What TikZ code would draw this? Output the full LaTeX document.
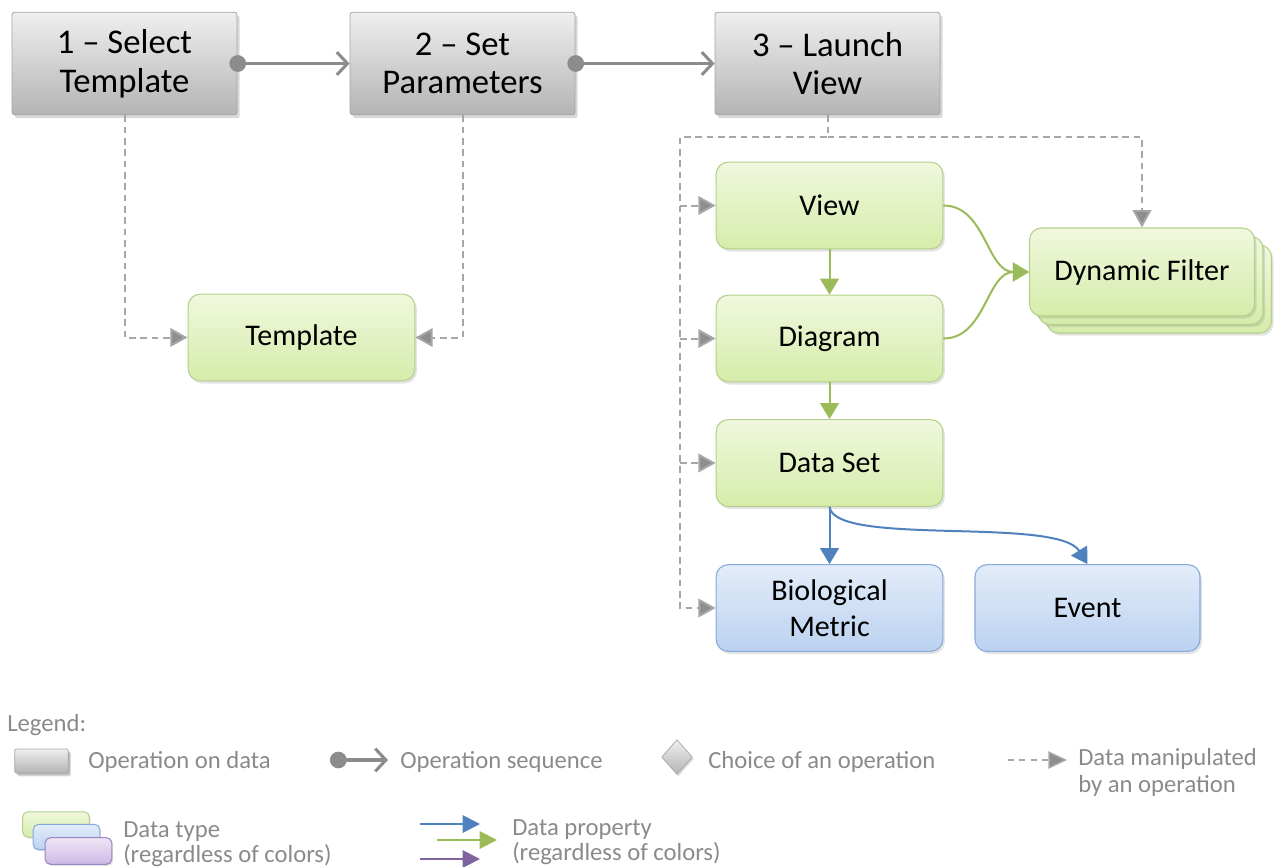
\documentclass[tikz,border=0pt]{standalone}
\usepackage{fontspec}
\setmainfont{Carlito}
\usetikzlibrary{arrows.meta,shapes.geometric,shadows}

% palette
\definecolor{opTop}{HTML}{EFEFEF}
\definecolor{opBot}{HTML}{B4B4B4}
\definecolor{opEdge}{HTML}{A4A4A4}
\definecolor{gTop}{HTML}{F0F8DE}
\definecolor{gBot}{HTML}{D6ECAA}
\definecolor{gEdge}{HTML}{B3D18A}
\definecolor{gLine}{HTML}{9BBB59}
\definecolor{bTop}{HTML}{E3ECF9}
\definecolor{bBot}{HTML}{BBD2F0}
\definecolor{bEdge}{HTML}{86AADA}
\definecolor{bLine}{HTML}{4F81BD}
\definecolor{pTop}{HTML}{EEE6F6}
\definecolor{pBot}{HTML}{CDB9E4}
\definecolor{pEdge}{HTML}{9A86C0}
\definecolor{pLine}{HTML}{8064A2}
\definecolor{seqGray}{HTML}{8C8C8C}
\definecolor{dashGray}{HTML}{A6A6A6}
\definecolor{tipGray}{HTML}{8E8E8E}
\definecolor{legGray}{HTML}{8A8A8A}

\tikzset{
  opbox/.style={draw=opEdge, line width=0.6pt, top color=opTop, bottom color=opBot,
    rounded corners=2pt, minimum width=168.75pt, minimum height=77pt, inner sep=0pt,
    align=center, font=\fontsize{26}{29}\selectfont,
    drop shadow={shadow xshift=2pt, shadow yshift=-2.5pt, opacity=0.3}},
  dtbox/.style={line width=0.8pt, rounded corners=9pt, minimum width=170pt,
    minimum height=65pt, inner sep=0pt, align=center,
    font=\fontsize{22.5}{27}\selectfont,
    drop shadow={shadow xshift=1.5pt, shadow yshift=-2pt, opacity=0.22}},
  greenbox/.style={dtbox, draw=gEdge, top color=gTop, bottom color=gBot},
  bluebox/.style={dtbox, draw=bEdge, top color=bTop, bottom color=bBot},
  seqarrow/.style={draw=seqGray, line width=2.3pt,
    arrows={Circle[length=12.5pt,fill=seqGray]-Straight Barb[length=8pt,width=17pt]}},
  datalink/.style={draw=dashGray, line width=1.5pt, dash pattern=on 5pt off 3.5pt,
    -{Triangle[length=13pt,width=14pt,fill=tipGray]}},
  gprop/.style={draw=gLine, line width=1.5pt, -{Triangle[length=12pt,width=14pt]}},
  bprop/.style={draw=bLine, line width=1.5pt, -{Triangle[length=12pt,width=14pt]}},
  legendtext/.style={text=legGray, font=\fontsize{18.5}{20}\selectfont,
    anchor=base west, inner sep=0pt},
  legendbox/.style={minimum width=50pt, minimum height=19pt, rounded corners=4pt,
    line width=0.8pt, drop shadow={shadow xshift=1pt, shadow yshift=-1.2pt, opacity=0.22}},
}

\begin{document}
\begin{tikzpicture}[x=0.75pt, y=0.75pt]
\useasboundingbox (0,0) rectangle (1281,-867);

% operations
\node[opbox] (b1) at (124.5,-63.5) {1 -- Select\\Template};
\node[opbox] (b2) at (462.5,-63.5) {2 -- Set\\Parameters};
\node[opbox] (b3) at (827.5,-63.5) {3 -- Launch\\View};

% data types
\node[greenbox] (tmpl) at (301.5,-337.5) {Template};
\node[greenbox] (view) at (829.5,-205.5) {View};
\node[greenbox] (diag) at (829.5,-338.5) {Diagram};
\node[greenbox] (dset) at (829.5,-463) {Data Set};
\node[bluebox] (bio) at (829.5,-608) {Biological\\Metric};
\node[bluebox, minimum width=168.75pt] (event) at (1087.5,-608) {Event};

% stacked dynamic filter
\node[greenbox, minimum width=168.75pt, minimum height=66pt] (dfb2) at (1159,-289) {};
\node[greenbox, minimum width=168.75pt, minimum height=66pt] (dfb1) at (1150.5,-280.5) {};
\node[greenbox, minimum width=168.75pt, minimum height=66pt] (dflt) at (1142,-272) {Dynamic Filter};

% operation sequence
\draw[seqarrow] ([xshift=-6pt]b1.east) -- (b2.west);
\draw[seqarrow] ([xshift=-6pt]b2.east) -- (b3.west);

% data manipulated by operations
\draw[datalink] (b1.south) |- (tmpl.west);
\draw[datalink] (b2.south) |- (tmpl.east);
\coordinate (busL) at (680,-137);
\draw[datalink] (b3.south) |- (busL) |- (bio.west);
\foreach \n in {view,diag,dset}
  \draw[datalink] (busL |- \n.west) -- (\n.west);
\draw[datalink] (b3.south |- busL) -| (dflt.north);

% data properties
\draw[gprop] (view.south) -- (diag.north);
\draw[gprop] (diag.south) -- (dset.north);
\draw[gprop] (view.east) to[out=0,in=180] (dflt.west);
\draw[gprop] (diag.east) to[out=0,in=180] (dflt.west);
\draw[bprop] (dset.south) -- (bio.north);
\draw[bprop] (dset.south) .. controls +(5,-40) and +(-30,48) .. (event.north);

% legend
\node[legendtext] (legtitle) at (7,-731) {Legend:};

\node[opbox, minimum width=40pt, minimum height=18pt, rounded corners=1pt,
  drop shadow={shadow xshift=1.2pt, shadow yshift=-1.5pt, opacity=0.3}] (lgop) at (41.5,-761) {};
\node[legendtext] (lgopt) at (88,-768) {Operation on data};

\coordinate (sqA) at (330,-760);
\coordinate (sqB) at (388,-760);
\draw[seqarrow] (sqA) -- (sqB);
\node[legendtext] (lgseqt) at (400,-768) {Operation sequence};

\node[diamond, draw=opEdge, line width=0.5pt, top color=opTop, bottom color=opBot,
  minimum width=23pt, minimum height=26pt, inner sep=0pt,
  drop shadow={shadow xshift=1pt, shadow yshift=-1.5pt, opacity=0.3}] (lgch) at (677,-757) {};
\node[legendtext] (lgcht) at (708,-768) {Choice of an operation};

\coordinate (dmA) at (1008,-760);
\coordinate (dmB) at (1067,-760);
\draw[datalink, line width=1.2pt, dash pattern=on 4.5pt off 4pt,
  -{Triangle[length=14pt,width=13pt,fill=tipGray]}] (dmA) -- (dmB);
\node[legendtext] (lgdm1) at (1078,-765) {Data manipulated};
\node[legendtext] (lgdm2) at (1078,-792) {by an operation};

\node[legendbox, draw=gEdge, top color=gTop, bottom color=gBot] (lgg) at (56,-824.5) {};
\node[legendbox, draw=bEdge, top color=bTop, bottom color=bBot] (lgb) at (66.5,-837) {};
\node[legendbox, draw=pEdge, top color=pTop, bottom color=pBot, minimum height=20pt] (lgp) at (78.5,-851) {};
\node[legendtext] (lgdt1) at (123,-837) {Data type};
\node[legendtext] (lgdt2) at (123,-862) {(regardless of colors)};

\coordinate (pbA) at (420,-824);
\coordinate (pbB) at (480,-824);
\coordinate (pgA) at (437,-840);
\coordinate (pgB) at (497,-840);
\coordinate (ppA) at (420,-859);
\coordinate (ppB) at (480,-859);
\draw[bprop, -{Triangle[length=13pt,width=13pt]}] (pbA) -- (pbB);
\draw[gprop, -{Triangle[length=13pt,width=13pt]}] (pgA) -- (pgB);
\draw[draw=pLine, line width=1.5pt, -{Triangle[length=13pt,width=13pt]}] (ppA) -- (ppB);
\node[legendtext] (lgdp1) at (512,-835) {Data property};
\node[legendtext] (lgdp2) at (512,-860) {(regardless of colors)};
\end{tikzpicture}
\end{document}
